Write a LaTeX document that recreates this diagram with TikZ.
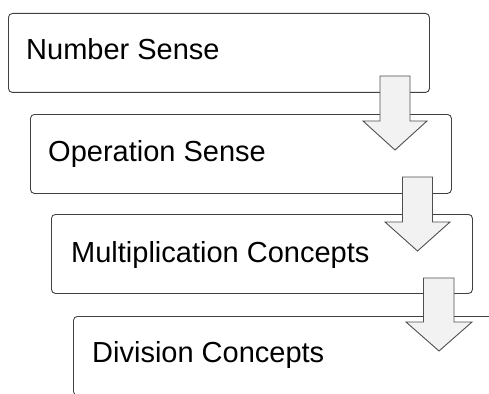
\documentclass[tikz,border=0pt]{standalone}
\usepackage{fontspec}
\setmainfont{Liberation Sans}
\definecolor{boxline}{HTML}{404040}
\definecolor{arrline}{HTML}{505050}
\definecolor{arrfill}{HTML}{F2F2F2}
\begin{document}
\begin{tikzpicture}[x=1pt,y=-1pt,
  box/.style={draw=boxline, line width=0.9pt, rounded corners=4pt, fill=white,
    minimum width=421pt, minimum height=79pt, anchor=north west, inner sep=0pt},
  lbl/.style={anchor=base west, inner sep=0pt, font=\fontsize{29}{34}\selectfont, text=black},
  blockarrow/.style={draw=arrline, line width=0.9pt, fill=arrfill, line join=miter}]
\useasboundingbox (0,0) rectangle (489,393);
\clip (0,0) rectangle (489,393);
% boxes
\node[box] (b1) at (8,13) {};
\node[box] (b2) at (30,114) {};
\node[box] (b3) at (51,214) {};
\node[box] (b4) at (73,316) {};
% labels
\node[lbl] (t1) at (26,60) {Number Sense};
\node[lbl] (t2) at (48,161) {Operation Sense};
\node[lbl] (t3) at (71,262) {Multiplication Concepts};
\node[lbl] (t4) at (92,362) {Division Concepts};
% block arrows
\draw[blockarrow] (380,76) -- (410,76) -- (410,121) -- (427,121) -- (395,150) -- (363,121) -- (380,121) -- cycle;
\draw[blockarrow] (402.5,177) -- (432.5,177) -- (432.5,222) -- (450,222) -- (417.5,251) -- (385,222) -- (402.5,222) -- cycle;
\draw[blockarrow] (423.5,278) -- (454,278) -- (454,322) -- (472,322) -- (439,351) -- (406,322) -- (423.5,322) -- cycle;
\end{tikzpicture}
\end{document}
